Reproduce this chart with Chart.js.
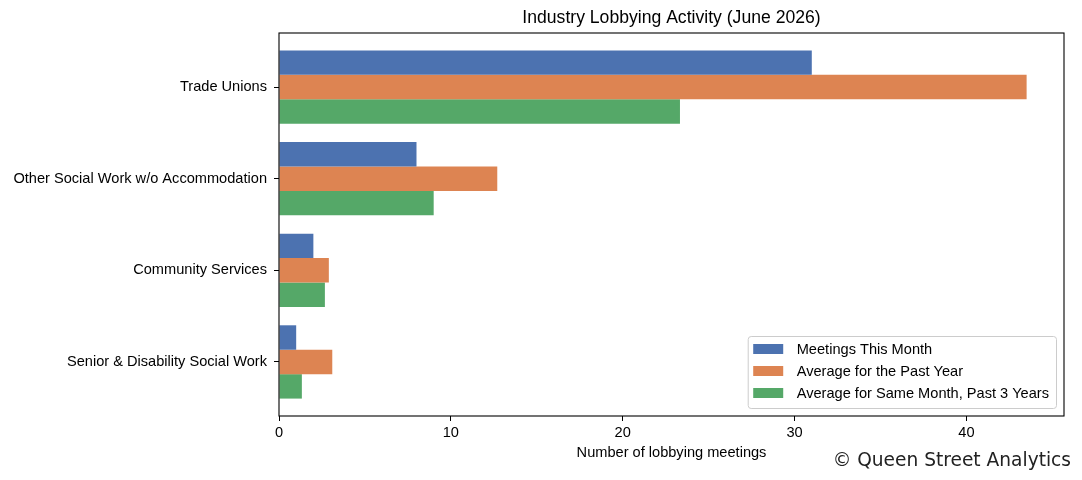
<!DOCTYPE html>
<html>
<head>
<meta charset="utf-8">
<title>Industry Lobbying Activity</title>
<script src="https://cdn.jsdelivr.net/npm/chart.js@4/dist/chart.umd.min.js"></script>
<style>
  html, body { margin: 0; padding: 0; background: #fff; }
  #wrap { width: 1082px; height: 480px; }
</style>
</head>
<body>
<div id="wrap"><canvas id="chart" width="1082" height="480"></canvas></div>
<script>
const categories = [
    "Trade Unions",
    "Other Social Work w/o Accommodation",
    "Community Services",
    "Senior & Disability Social Work"
];
const meetingsThisMonth = [31, 8, 2, 1];
const avgPastYear = [43.5, 12.7, 2.9, 3.1];
const avgSameMonth3Yrs = [23.33, 9.0, 2.67, 1.33];
const seriesNames = [
    "Meetings This Month",
    "Average for the Past Year",
    "Average for Same Month, Past 3 Years"
];
const xTicks = [0, 10, 20, 30, 40];
const chartTitle = "Industry Lobbying Activity (June 2026)";

const colors = ["#4c72b0", "#dd8452", "#55a868"];
const FONT = "'Liberation Sans', Arial, sans-serif";
const FS = 14.6;

function toPoints(values) {
    return values.map((v, i) => ({ x: v, y: i }));
}

// title over the plot area, frame, legend inside the plot, watermark
const extras = {
    id: 'extras',
    afterDatasetsDraw(chart) {
        const { ctx, chartArea } = chart;
        ctx.save();
        ctx.strokeStyle = '#000';
        ctx.lineWidth = 1.1;
        ctx.strokeRect(chartArea.left, chartArea.top,
            chartArea.right - chartArea.left, chartArea.bottom - chartArea.top);

        ctx.fillStyle = '#000';
        ctx.font = "17.6px " + FONT;
        ctx.textAlign = 'center';
        ctx.textBaseline = 'middle';
        ctx.fillText(chartTitle, (chartArea.left + chartArea.right) / 2, 18);

        // legend, lower right
        ctx.font = FS + "px " + FONT;
        const textW = Math.max(...seriesNames.map(s => ctx.measureText(s).width));
        const boxW = 49 + textW + 7;
        const boxH = 72;
        const right = chartArea.right - 8;
        const bottom = chartArea.bottom - 8;
        const left = right - boxW;
        const top = bottom - boxH;
        ctx.fillStyle = 'rgba(255,255,255,0.8)';
        ctx.strokeStyle = '#cccccc';
        ctx.lineWidth = 1;
        ctx.beginPath();
        ctx.roundRect(left + 0.5, top + 0.5, boxW, boxH, 3);
        ctx.fill();
        ctx.stroke();
        ctx.textBaseline = 'middle';
        ctx.textAlign = 'left';
        seriesNames.forEach((name, i) => {
            const cy = top + 13 + i * 22;
            ctx.fillStyle = colors[i];
            ctx.fillRect(left + 5.5, cy - 5, 30, 10);
            ctx.fillStyle = '#000';
            ctx.fillText(name, left + 49, cy + 0.5);
        });
        ctx.restore();
    },
    afterDraw(chart) {
        const { ctx } = chart;
        ctx.save();
        ctx.font = "18.6px 'DejaVu Sans', sans-serif";
        ctx.fillStyle = '#222222';
        ctx.textAlign = 'right';
        ctx.textBaseline = 'alphabetic';
        ctx.fillText("\u00a9 Queen Street Analytics", 1071, 466);
        ctx.restore();
    }
};

const ctx = document.getElementById('chart').getContext('2d');
new Chart(ctx, {
    type: 'bar',
    data: {
        datasets: [
            { label: seriesNames[0], data: toPoints(meetingsThisMonth), backgroundColor: colors[0] },
            { label: seriesNames[1], data: toPoints(avgPastYear), backgroundColor: colors[1] },
            { label: seriesNames[2], data: toPoints(avgSameMonth3Yrs), backgroundColor: colors[2] }
        ]
    },
    options: {
        indexAxis: 'y',
        responsive: false,
        animation: false,
        events: [],
        layout: { padding: { left: 0, right: 18, top: 33, bottom: 0 } },
        datasets: {
            bar: { categoryPercentage: 0.8, barPercentage: 1.0, borderWidth: 0 }
        },
        scales: {
            x: {
                type: 'linear',
                min: 0,
                max: 45.675,
                border: { display: false },
                grid: { drawOnChartArea: false, drawTicks: true, tickLength: 5, tickColor: '#000', tickWidth: 1 },
                afterBuildTicks: axis => { axis.ticks = xTicks.map(v => ({ value: v })); },
                afterFit: axis => { axis.height = 64; },
                ticks: { color: '#000', font: { family: FONT, size: FS }, padding: 3, maxRotation: 0 },
                title: {
                    display: true,
                    text: 'Number of lobbying meetings',
                    color: '#000',
                    font: { family: FONT, size: FS },
                    padding: { top: 0, bottom: 18 }
                }
            },
            y: {
                type: 'linear',
                min: -0.59,
                max: 3.59,
                reverse: true,
                offset: false,
                border: { display: false },
                grid: { offset: false, drawOnChartArea: false, drawTicks: true, tickLength: 5, tickColor: '#000', tickWidth: 1 },
                afterBuildTicks: axis => { axis.ticks = categories.map((c, i) => ({ value: i })); },
                afterFit: axis => { axis.width = 279; },
                ticks: {
                    color: '#000',
                    font: { family: FONT, size: FS },
                    padding: 7,
                    callback: value => categories[value]
                }
            }
        },
        plugins: {
            legend: { display: false },
            tooltip: { enabled: false },
            title: { display: false }
        }
    },
    plugins: [extras]
});
</script>
</body>
</html>
